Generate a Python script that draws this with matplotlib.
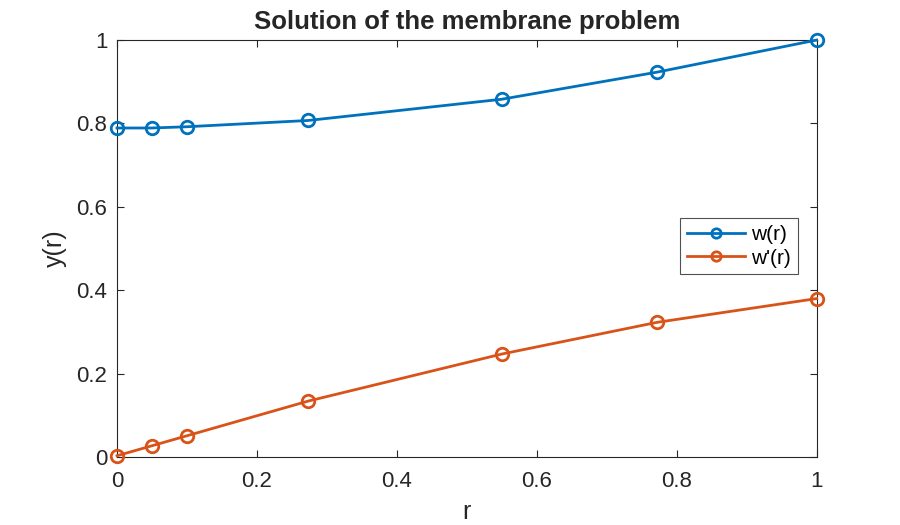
import matplotlib.pyplot as plt
from matplotlib.ticker import FuncFormatter

# mesh points and solution values
r = [0, 0.05, 0.1, 0.273, 0.55, 0.772, 1.0]
w = [0.789, 0.789, 0.792, 0.807, 0.858, 0.923, 1.0]
dw = [0.003, 0.027, 0.051, 0.134, 0.247, 0.323, 0.380]

blue = '#0072BD'
orange = '#D95319'
dark = '#262626'

plt.rcParams['font.family'] = ['Liberation Sans', 'DejaVu Sans']

fig = plt.figure(figsize=(9, 5.25), dpi=100)
ax = fig.add_axes([0.13, 0.1295, 0.7775, 0.7943])

ax.plot(r, w, '-o', color=blue, lw=2, ms=9, mfc='none', mew=2,
        label='w(r)', clip_on=False, zorder=3)
ax.plot(r, dw, '-o', color=orange, lw=2, ms=9, mfc='none', mew=2,
        label="w'(r)", clip_on=False, zorder=3)

ax.set_xlim(0, 1)
ax.set_ylim(0, 1)
ax.set_xticks([0, 0.2, 0.4, 0.6, 0.8, 1])
ax.set_yticks([0, 0.2, 0.4, 0.6, 0.8, 1])
fmt = FuncFormatter(lambda v, p: ('%g' % round(v, 2)))
ax.xaxis.set_major_formatter(fmt)
ax.yaxis.set_major_formatter(fmt)
ax.tick_params(direction='in', top=True, right=True, length=5, width=0.8,
               labelsize=16, colors=dark)
ax.tick_params(axis='x', pad=10)
ax.tick_params(axis='y', pad=7)
for s in ax.spines.values():
    s.set_linewidth(0.8)
    s.set_color(dark)

ax.set_xlabel('r', fontsize=18, color=dark, labelpad=6)
ax.set_ylabel('y(r)', fontsize=18, color=dark, labelpad=7)
ax.set_title('Solution of the membrane problem', fontsize=18.5, fontweight='bold',
             color=dark, pad=8)

leg = ax.legend(loc='center right', bbox_to_anchor=(0.973, 0.505), fontsize=15,
                frameon=True, fancybox=False, edgecolor=dark,
                handlelength=2.8, borderpad=0.32, labelspacing=0.22,
                handletextpad=0.3, borderaxespad=0, markerscale=0.75)
leg.get_frame().set_linewidth(0.8)

fig.savefig('out.png', dpi=100)
